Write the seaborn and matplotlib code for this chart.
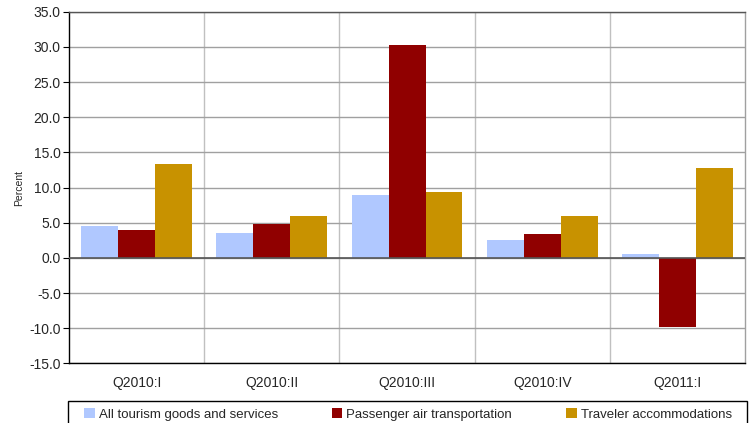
import pandas as pd
import matplotlib.pyplot as plt
import seaborn as sns
from matplotlib.patches import Rectangle
from matplotlib.ticker import FixedLocator, FormatStrFormatter

# 四半期ごとのデータ
quarters = ['Q2010:I', 'Q2010:II', 'Q2010:III', 'Q2010:IV', 'Q2011:I']
all_tourism = [4.6, 3.5, 9.0, 2.6, 0.5]
air_transport = [3.9, 4.8, 30.3, 3.4, -9.8]
accommodations = [13.4, 6.0, 9.4, 5.9, 12.8]

series_names = ['All tourism goods and services', 'Passenger air transportation', 'Traveler accommodations']
colors = ['#B0C8FF', '#900000', '#C89200']

# ロング形式のデータフレームを作成
df = pd.DataFrame({
    'Quarter': quarters * 3,
    'Value': all_tourism + air_transport + accommodations,
    'Series': [series_names[0]] * 5 + [series_names[1]] * 5 + [series_names[2]] * 5,
})

sns.set_style('white')
plt.rcParams['font.family'] = ['Liberation Sans', 'DejaVu Sans']

fig = plt.figure(figsize=(7.51, 4.23), dpi=100)
ax = fig.add_axes([0.092, 0.141, 0.900, 0.831])

sns.barplot(data=df, x='Quarter', y='Value', hue='Series', order=quarters,
            hue_order=series_names, palette=colors, width=0.82, gap=0,
            saturation=1, linewidth=0, edgecolor='none', ax=ax, legend=True)

ax.set_ylim(-15, 35)
ax.set_xlim(-0.5, 4.5)
ax.set_yticks(range(-15, 36, 5))
ax.yaxis.set_major_formatter(FormatStrFormatter('%.1f'))
ax.set_xlabel('')
ax.set_ylabel('Percent', fontsize=7.5, labelpad=4)

# グリッド線
ax.grid(axis='y', color='#A0A0A0', linewidth=1.0)
ax.xaxis.set_minor_locator(FixedLocator([0.5, 1.5, 2.5, 3.5]))
ax.grid(axis='x', which='minor', color='#C0C0C0', linewidth=1.0)
ax.set_axisbelow(True)
ax.axhline(0, color='#555555', linewidth=1.2, zorder=3)

ax.tick_params(axis='y', labelsize=10, length=4, left=True, color='black', pad=2)
ax.tick_params(axis='x', which='major', labelsize=10, length=0, pad=9)
ax.tick_params(axis='x', which='minor', length=0)

ax.spines['left'].set_color('black')
ax.spines['bottom'].set_color('black')
ax.spines['top'].set_color('#555555')
ax.spines['right'].set_color('#A0A0A0')
for s in ax.spines.values():
    s.set_linewidth(1.0)

# 凡例（枠は別に描く）
handles, labels = ax.get_legend_handles_labels()
ax.get_legend().remove()
fig.patches.append(Rectangle((68 / 751, -0.01), 679 / 751, 0.062,
                             transform=fig.transFigure, fill=False,
                             edgecolor='black', linewidth=1.0))
fig.legend(handles, labels, loc='center', ncol=3,
           bbox_to_anchor=(408 / 751, 8.5 / 423), fontsize=9.5,
           frameon=False, handlelength=0.8, handleheight=0.8,
           handletextpad=0.3, columnspacing=4.1, borderaxespad=0)

plt.savefig('out.png', dpi=100)
